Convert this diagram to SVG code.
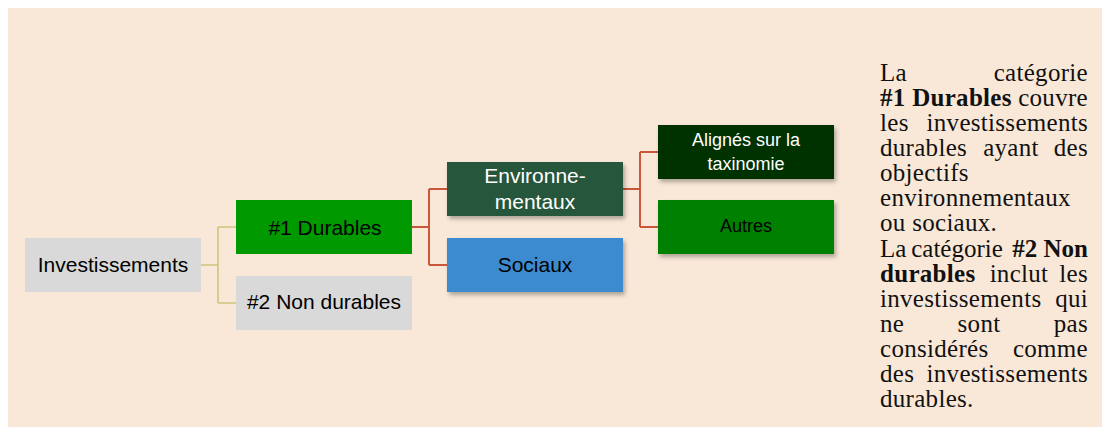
<svg xmlns="http://www.w3.org/2000/svg" width="1102" height="427" viewBox="0 0 1102 427">
  <style>
    .lbl { font-family: "Liberation Sans", Arial, sans-serif; font-size: 21px; text-anchor: middle; fill: #000; }
    .sm { font-size: 18px; }
    .wh { fill: #fff; }
    .tan { fill: none; stroke: #cfc47e; stroke-width: 1.6; }
    .red { fill: none; stroke: #c9573a; stroke-width: 2; }
    .desc { font-family: "Liberation Serif", "Times New Roman", serif; font-size: 25px; fill: #111; letter-spacing: 0.3px; }
    .tight { letter-spacing: 0; }
    .b { font-weight: bold; }
    .e { text-anchor: end; }
    .m { text-anchor: middle; }
  </style>
  <defs>
    <filter id="sh" x="-10%" y="-20%" width="130%" height="160%">
      <feDropShadow dx="2" dy="3" stdDeviation="2" flood-color="#000" flood-opacity="0.3"/>
    </filter>
  </defs>
  <rect x="0" y="0" width="1102" height="427" fill="#ffffff"/>
  <rect x="8" y="8" width="1094" height="419" fill="#f9e8d8"/>

  <g id="connectors">
    <path class="tan" d="M201 265 H218 M218 227 V303 M218 227 H236 M218 303 H236"/>
    <path class="red" d="M412 227 H429 M429 189 V265 M429 189 H447 M429 265 H447"/>
    <path class="red" d="M623 189 H640 M640 152 V227 M640 152 H658 M640 227 H658"/>
  </g>

  <g id="node-investissements">
    <rect x="25" y="238" width="176" height="54" fill="#d9d9d9"/>
    <text class="lbl" x="113" y="272">Investissements</text>
  </g>
  <g id="node-durables">
    <rect x="236" y="200" width="176" height="54" fill="#009900"/>
    <text class="lbl" x="325" y="235">#1 Durables</text>
  </g>
  <g id="node-non-durables">
    <rect x="236" y="276" width="176" height="54" fill="#d9d9d9"/>
    <text class="lbl" x="324" y="309">#2 Non durables</text>
  </g>
  <g id="node-environnementaux">
    <rect x="447" y="162" width="176" height="54" fill="#27573b" filter="url(#sh)"/>
    <text class="lbl wh" x="535" y="183">Environne-</text>
    <text class="lbl wh" x="535" y="209">mentaux</text>
  </g>
  <g id="node-sociaux">
    <rect x="447" y="238" width="176" height="54" fill="#3e8bcf" filter="url(#sh)"/>
    <text class="lbl" x="535" y="272">Sociaux</text>
  </g>
  <g id="node-alignes">
    <rect x="658" y="125" width="176" height="54" fill="#003300" filter="url(#sh)"/>
    <text class="lbl sm wh" x="746" y="146">Alignés sur la</text>
    <text class="lbl sm wh" x="746" y="170">taxinomie</text>
  </g>
  <g id="node-autres">
    <rect x="658" y="200" width="176" height="54" fill="#008000" filter="url(#sh)"/>
    <text class="lbl sm" x="746" y="232">Autres</text>
  </g>

  <g id="description" class="desc">
    <text x="880" y="81">La</text>
    <text class="e" x="1088" y="81">catégorie</text>

    <text class="b" x="880" y="106">#1 Durables</text>
    <text class="e" x="1088" y="106">couvre</text>

    <text x="880" y="131">les</text>
    <text class="e" x="1088" y="131">investissements</text>

    <text x="880" y="156">durables</text>
    <text class="m" x="1011" y="156">ayant</text>
    <text class="e" x="1088" y="156">des</text>

    <text x="880" y="181">objectifs</text>

    <text x="880" y="206">environnementaux</text>

    <text x="880" y="231">ou sociaux.</text>

    <text class="tight" x="880" y="257">La</text>
    <text class="m tight" x="957" y="257">catégorie</text>
    <text class="e b tight" x="1088" y="257">#2 Non</text>

    <text class="b" x="880" y="282">durables</text>
    <text class="m" x="1019" y="282">inclut</text>
    <text class="e" x="1088" y="282">les</text>

    <text x="880" y="307">investissements</text>
    <text class="e" x="1088" y="307">qui</text>

    <text x="880" y="332">ne</text>
    <text class="m" x="979" y="332">sont</text>
    <text class="e" x="1088" y="332">pas</text>

    <text x="880" y="357">considérés</text>
    <text class="e" x="1088" y="357">comme</text>

    <text x="880" y="382">des</text>
    <text class="e" x="1088" y="382">investissements</text>

    <text x="880" y="407">durables.</text>
  </g>
</svg>
